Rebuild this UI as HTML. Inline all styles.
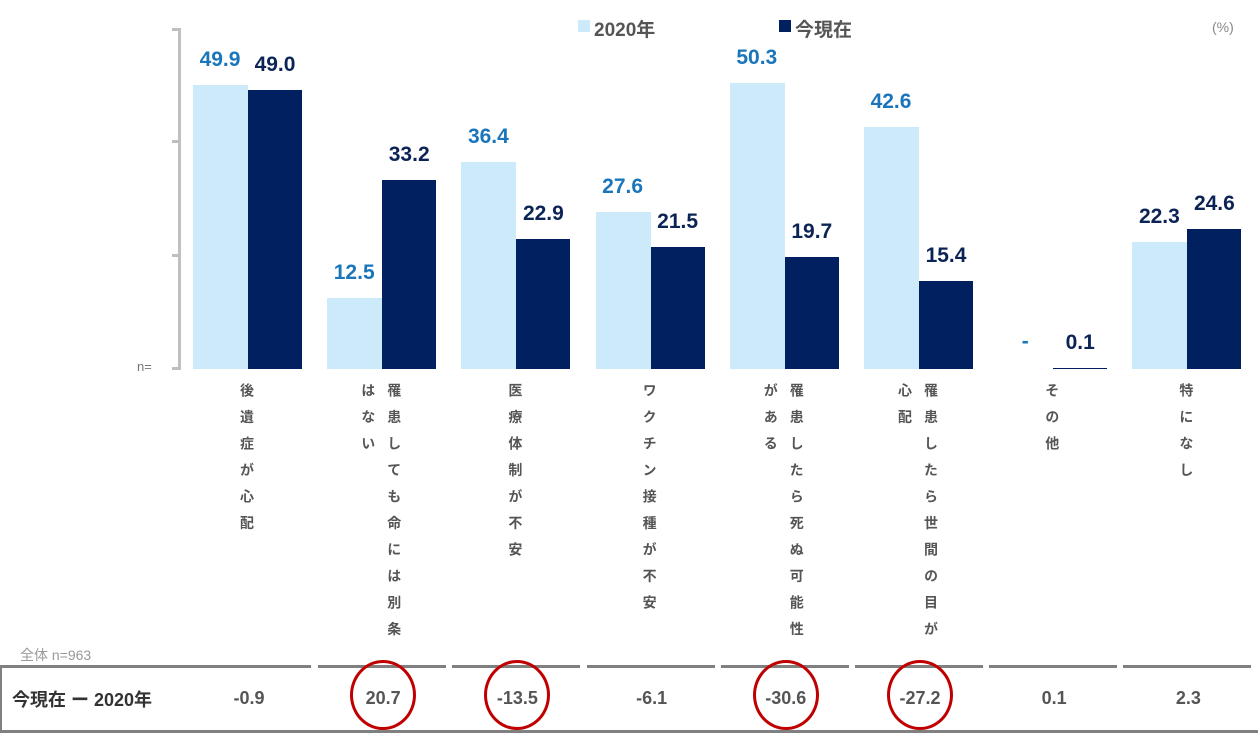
<!DOCTYPE html>
<html><head><meta charset="utf-8"><style>
body{margin:0;width:1258px;height:735px;background:#fff;position:relative;font-family:"Liberation Sans","Noto Sans CJK JP",sans-serif;overflow:hidden}
.a{position:absolute}
.bar{position:absolute}
.l{background:#cdeafb}.d{background:#002060}
.v{position:absolute;font-weight:bold;font-size:21px;width:80px;text-align:center}
.vl{color:#1a75bb}.vd{color:#0c2356}
.cat{position:absolute;top:383px;writing-mode:vertical-rl;font-size:14px;font-weight:bold;color:#555;letter-spacing:12.5px;line-height:26px}
.tv{position:absolute;top:688px;width:134px;text-align:center;font-size:18px;color:#555;font-weight:bold}
.seg{position:absolute;top:665px;height:3px;background:#808080}
.circ{position:absolute;top:660px;width:66px;height:70px;border:3px solid #c00000;border-radius:50%;box-sizing:border-box}
</style></head><body>
<div class="a" style="left:178px;top:28px;width:3px;height:342px;background:#bfbfbf"></div>
<div class="a" style="left:172px;top:28px;width:8px;height:3px;background:#bfbfbf"></div>
<div class="a" style="left:172px;top:140px;width:8px;height:3px;background:#bfbfbf"></div>
<div class="a" style="left:172px;top:254px;width:8px;height:3px;background:#bfbfbf"></div>
<div class="a" style="left:172px;top:367px;width:8px;height:3px;background:#bfbfbf"></div>
<div class="a" style="left:137px;top:359px;font-size:13px;color:#777">n=</div>
<div class="a" style="left:578px;top:20px;width:12px;height:12px;background:#cdeafb"></div>
<div class="a" style="left:594px;top:15px;font-size:19px;font-weight:bold;color:#555">2020年</div>
<div class="a" style="left:779px;top:20px;width:12px;height:12px;background:#002060"></div>
<div class="a" style="left:795px;top:15px;font-size:19px;font-weight:bold;color:#555">今現在</div>
<div class="a" style="left:1212px;top:19px;font-size:14px;color:#888">(%)</div>
<div id="bars"></div>
<div class="a" style="left:20px;top:645px;font-size:14px;color:#999">全体 n=963</div>
<div class="a" style="left:0;top:667px;width:2px;height:65px;background:#808080"></div>
<div class="a" style="left:0;top:730px;width:1258px;height:3px;background:#808080"></div>
<div class="a" style="left:12px;top:686px;font-size:18px;font-weight:bold;color:#333">今現在 ー 2020年</div>
<script>
var L=[49.9,12.5,36.4,27.6,50.3,42.6,null,22.3],D=[49.0,33.2,22.9,21.5,19.7,15.4,0.1,24.6];
var cats=["後遺症が心配","はない|罹患しても命には別条","医療体制が不安","ワクチン接種が不安","がある|罹患したら死ぬ可能性","心配|罹患したら世間の目が","その他","特になし"];
var diff=["-0.9","20.7","-13.5","-6.1","-30.6","-27.2","0.1","2.3"],circ=[1,2,4,5];
var h="",B=369,s=5.69;
for(var i=0;i<8;i++){var x=193+134.2*i;
if(L[i]!=null){var hl=L[i]*s;h+='<div class="bar l" style="left:'+x+'px;top:'+(B-hl)+'px;width:55px;height:'+hl+'px"></div><div class="v '+(i==7?'vd':'vl')+'" style="left:'+(x-13)+'px;top:'+(B-hl-37)+'px">'+L[i].toFixed(1)+'</div>';}
else h+='<div class="v vl" style="left:'+(x-13)+'px;top:330px">-</div>';
var hd=Math.max(D[i]*s,1.5);h+='<div class="bar d" style="left:'+(x+55)+'px;top:'+(B-hd)+'px;width:54px;height:'+hd+'px"></div><div class="v vd" style="left:'+(x+42)+'px;top:'+(B-hd-37)+'px">'+D[i].toFixed(1)+'</div>';
var c=cats[i].split("|"),cx=x+54;
if(c.length==1)h+='<div class="cat" style="left:'+(cx-13)+'px">'+c[0]+'</div>';
else h+='<div class="cat" style="left:'+(cx-26)+'px">'+c[1]+'<br>'+c[0]+'</div>';
var tx=181+134.2*i;h+='<div class="seg" style="left:'+(i==0?0:tx+3)+'px;width:'+(i==0?180+131:128)+'px"></div>';
h+='<div class="tv" style="left:'+(tx+1)+'px">'+diff[i]+'</div>';
if(circ.indexOf(i)>=0)h+='<div class="circ" style="left:'+(tx+35)+'px"></div>';}
document.getElementById("bars").innerHTML=h;
</script>
</body></html>
